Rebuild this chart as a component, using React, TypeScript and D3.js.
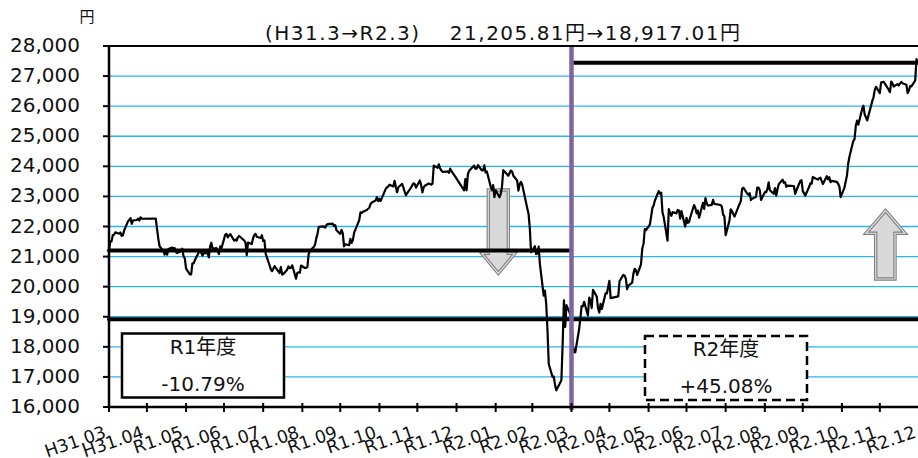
import React, { useEffect, useRef } from "react";
import * as d3 from "d3";

// 日経平均株価 終値（円）。先頭は H30年度末（3/29終値）を年度末日付で置く
const closesR1: [string, number][] = [
  ["2019-03-31", 21205.81],
  ["2019-04-01", 21509], ["2019-04-02", 21505], ["2019-04-03", 21713], ["2019-04-04", 21724], ["2019-04-05", 21807],
  ["2019-04-08", 21761], ["2019-04-09", 21802], ["2019-04-10", 21687], ["2019-04-11", 21711], ["2019-04-12", 21870],
  ["2019-04-15", 22169], ["2019-04-16", 22221], ["2019-04-17", 22277], ["2019-04-18", 22090], ["2019-04-19", 22200],
  ["2019-04-22", 22217], ["2019-04-23", 22259], ["2019-04-24", 22200], ["2019-04-25", 22307], ["2019-04-26", 22258],
  ["2019-05-07", 22259], ["2019-05-08", 21923], ["2019-05-09", 21602], ["2019-05-10", 21344], ["2019-05-13", 21191],
  ["2019-05-14", 21067], ["2019-05-15", 21189], ["2019-05-16", 21062], ["2019-05-17", 21250], ["2019-05-20", 21301],
  ["2019-05-21", 21272], ["2019-05-22", 21283], ["2019-05-23", 21151], ["2019-05-24", 21117], ["2019-05-27", 21182],
  ["2019-05-28", 21260], ["2019-05-29", 21003], ["2019-05-30", 20942], ["2019-05-31", 20601],
  ["2019-06-03", 20410], ["2019-06-04", 20408], ["2019-06-05", 20776], ["2019-06-06", 20774], ["2019-06-07", 20884],
  ["2019-06-10", 21134], ["2019-06-11", 21204], ["2019-06-12", 21129], ["2019-06-13", 21032], ["2019-06-14", 21116],
  ["2019-06-17", 21124], ["2019-06-18", 20972], ["2019-06-19", 21333], ["2019-06-20", 21462], ["2019-06-21", 21258],
  ["2019-06-24", 21285], ["2019-06-25", 21193], ["2019-06-26", 21086], ["2019-06-27", 21338], ["2019-06-28", 21275],
  ["2019-07-01", 21729], ["2019-07-02", 21754], ["2019-07-03", 21638], ["2019-07-04", 21702], ["2019-07-05", 21746],
  ["2019-07-08", 21534], ["2019-07-09", 21565], ["2019-07-10", 21533], ["2019-07-11", 21643], ["2019-07-12", 21685],
  ["2019-07-16", 21535], ["2019-07-17", 21469], ["2019-07-18", 21046], ["2019-07-19", 21466], ["2019-07-22", 21416],
  ["2019-07-23", 21620], ["2019-07-24", 21709], ["2019-07-25", 21756], ["2019-07-26", 21658], ["2019-07-29", 21616],
  ["2019-07-30", 21709], ["2019-07-31", 21521],
  ["2019-08-01", 21540], ["2019-08-02", 21087], ["2019-08-05", 20720], ["2019-08-06", 20585], ["2019-08-07", 20516],
  ["2019-08-08", 20593], ["2019-08-09", 20684], ["2019-08-13", 20455], ["2019-08-14", 20655], ["2019-08-15", 20405],
  ["2019-08-16", 20418], ["2019-08-19", 20563], ["2019-08-20", 20677], ["2019-08-21", 20618], ["2019-08-22", 20628],
  ["2019-08-23", 20711], ["2019-08-26", 20261], ["2019-08-27", 20456], ["2019-08-28", 20479], ["2019-08-29", 20460],
  ["2019-08-30", 20704],
  ["2019-09-02", 20620], ["2019-09-03", 20625], ["2019-09-04", 20649], ["2019-09-05", 21085], ["2019-09-06", 21199],
  ["2019-09-09", 21318], ["2019-09-10", 21392], ["2019-09-11", 21597], ["2019-09-12", 21759], ["2019-09-13", 21988],
  ["2019-09-17", 22001], ["2019-09-18", 21960], ["2019-09-19", 22044], ["2019-09-20", 22079], ["2019-09-24", 22098],
  ["2019-09-25", 22020], ["2019-09-26", 22048], ["2019-09-27", 21878], ["2019-09-30", 21756],
  ["2019-10-01", 21885], ["2019-10-02", 21778], ["2019-10-03", 21342], ["2019-10-04", 21410], ["2019-10-07", 21375],
  ["2019-10-08", 21587], ["2019-10-09", 21456], ["2019-10-10", 21551], ["2019-10-11", 21798], ["2019-10-15", 22207],
  ["2019-10-16", 22472], ["2019-10-17", 22451], ["2019-10-18", 22492], ["2019-10-21", 22548], ["2019-10-23", 22625],
  ["2019-10-24", 22750], ["2019-10-25", 22800], ["2019-10-28", 22867], ["2019-10-29", 22974], ["2019-10-30", 22843],
  ["2019-10-31", 22927],
  ["2019-11-01", 22851], ["2019-11-05", 23251], ["2019-11-06", 23303], ["2019-11-07", 23330], ["2019-11-08", 23391],
  ["2019-11-11", 23331], ["2019-11-12", 23520], ["2019-11-13", 23320], ["2019-11-14", 23141], ["2019-11-15", 23303],
  ["2019-11-18", 23416], ["2019-11-19", 23293], ["2019-11-20", 23148], ["2019-11-21", 23038], ["2019-11-22", 23113],
  ["2019-11-25", 23292], ["2019-11-26", 23373], ["2019-11-27", 23437], ["2019-11-28", 23409], ["2019-11-29", 23293],
  ["2019-12-02", 23529], ["2019-12-03", 23379], ["2019-12-04", 23135], ["2019-12-05", 23300], ["2019-12-06", 23354],
  ["2019-12-09", 23430], ["2019-12-10", 23410], ["2019-12-11", 23391], ["2019-12-12", 23424], ["2019-12-13", 24023],
  ["2019-12-16", 23952], ["2019-12-17", 24066], ["2019-12-18", 23934], ["2019-12-19", 23864], ["2019-12-20", 23816],
  ["2019-12-23", 23821], ["2019-12-24", 23830], ["2019-12-25", 23782], ["2019-12-26", 23924], ["2019-12-27", 23837],
  ["2019-12-30", 23657],
  ["2020-01-06", 23204], ["2020-01-07", 23575], ["2020-01-08", 23204], ["2020-01-09", 23739], ["2020-01-10", 23850],
  ["2020-01-14", 24025], ["2020-01-15", 23917], ["2020-01-16", 23933], ["2020-01-17", 24041], ["2020-01-20", 23864],
  ["2020-01-21", 23865], ["2020-01-22", 24031], ["2020-01-23", 23795], ["2020-01-24", 23827], ["2020-01-27", 23343],
  ["2020-01-28", 23216], ["2020-01-29", 23379], ["2020-01-30", 22977], ["2020-01-31", 23205],
  ["2020-02-03", 22972], ["2020-02-04", 23084], ["2020-02-05", 23320], ["2020-02-06", 23873], ["2020-02-07", 23828],
  ["2020-02-10", 23686], ["2020-02-12", 23861], ["2020-02-13", 23828], ["2020-02-14", 23688], ["2020-02-17", 23523],
  ["2020-02-18", 23194], ["2020-02-19", 23400], ["2020-02-20", 23479], ["2020-02-21", 23387], ["2020-02-25", 22605],
  ["2020-02-26", 22426], ["2020-02-27", 21948], ["2020-02-28", 21143],
  ["2020-03-02", 21344], ["2020-03-03", 21083], ["2020-03-04", 21100], ["2020-03-05", 21329], ["2020-03-06", 20750],
  ["2020-03-09", 19699], ["2020-03-10", 19867], ["2020-03-11", 19416], ["2020-03-12", 18560], ["2020-03-13", 17431],
  ["2020-03-16", 17002], ["2020-03-17", 17012], ["2020-03-18", 16727], ["2020-03-19", 16553], ["2020-03-23", 16888],
  ["2020-03-24", 18092], ["2020-03-25", 19547], ["2020-03-26", 18665], ["2020-03-27", 19389], ["2020-03-30", 19085],
  ["2020-03-31", 18917.01],
];

const closesR2: [string, number][] = [
  ["2020-04-01", 18065], ["2020-04-02", 17819], ["2020-04-03", 17820], ["2020-04-06", 18576], ["2020-04-07", 18950],
  ["2020-04-08", 19353], ["2020-04-09", 19345], ["2020-04-10", 19498], ["2020-04-13", 19043], ["2020-04-14", 19638],
  ["2020-04-15", 19550], ["2020-04-16", 19290], ["2020-04-17", 19897], ["2020-04-20", 19669], ["2020-04-21", 19281],
  ["2020-04-22", 19137], ["2020-04-23", 19429], ["2020-04-24", 19262], ["2020-04-27", 19783], ["2020-04-28", 19771],
  ["2020-04-30", 20194],
  ["2020-05-01", 19619], ["2020-05-07", 19675], ["2020-05-08", 20179], ["2020-05-11", 20390], ["2020-05-12", 20366],
  ["2020-05-13", 20267], ["2020-05-14", 19914], ["2020-05-15", 20037], ["2020-05-18", 20133], ["2020-05-19", 20433],
  ["2020-05-20", 20595], ["2020-05-21", 20552], ["2020-05-22", 20388], ["2020-05-25", 20741], ["2020-05-26", 21271],
  ["2020-05-27", 21419], ["2020-05-28", 21916], ["2020-05-29", 21877],
  ["2020-06-01", 22062], ["2020-06-02", 22325], ["2020-06-03", 22613], ["2020-06-04", 22695], ["2020-06-05", 22863],
  ["2020-06-08", 23178], ["2020-06-09", 23091], ["2020-06-10", 23124], ["2020-06-11", 22473], ["2020-06-12", 22305],
  ["2020-06-15", 21530], ["2020-06-16", 22582], ["2020-06-17", 22455], ["2020-06-18", 22355], ["2020-06-19", 22478],
  ["2020-06-22", 22437], ["2020-06-23", 22549], ["2020-06-24", 22534], ["2020-06-25", 22259], ["2020-06-26", 22512],
  ["2020-06-29", 21995], ["2020-06-30", 22288],
  ["2020-07-01", 22122], ["2020-07-02", 22145], ["2020-07-03", 22306], ["2020-07-06", 22714], ["2020-07-07", 22614],
  ["2020-07-08", 22438], ["2020-07-09", 22529], ["2020-07-10", 22291], ["2020-07-13", 22784], ["2020-07-14", 22587],
  ["2020-07-15", 22945], ["2020-07-16", 22770], ["2020-07-17", 22696], ["2020-07-20", 22717], ["2020-07-21", 22884],
  ["2020-07-22", 22751], ["2020-07-27", 22715], ["2020-07-28", 22657], ["2020-07-29", 22397], ["2020-07-30", 22339],
  ["2020-07-31", 21710],
  ["2020-08-03", 22195], ["2020-08-04", 22574], ["2020-08-05", 22514], ["2020-08-06", 22418], ["2020-08-07", 22329],
  ["2020-08-11", 22750], ["2020-08-12", 22843], ["2020-08-13", 23250], ["2020-08-14", 23289], ["2020-08-17", 23097],
  ["2020-08-18", 23051], ["2020-08-19", 23111], ["2020-08-20", 22880], ["2020-08-21", 22920], ["2020-08-24", 22985],
  ["2020-08-25", 23297], ["2020-08-26", 23296], ["2020-08-27", 23209], ["2020-08-28", 22882], ["2020-08-31", 23140],
  ["2020-09-01", 23138], ["2020-09-02", 23247], ["2020-09-03", 23465], ["2020-09-04", 23205], ["2020-09-07", 23089],
  ["2020-09-08", 23274], ["2020-09-09", 23032], ["2020-09-10", 23235], ["2020-09-11", 23406], ["2020-09-14", 23559],
  ["2020-09-15", 23454], ["2020-09-16", 23475], ["2020-09-17", 23319], ["2020-09-18", 23360], ["2020-09-23", 23346],
  ["2020-09-24", 23087], ["2020-09-25", 23204], ["2020-09-28", 23511], ["2020-09-29", 23539], ["2020-09-30", 23185],
  ["2020-10-02", 23030], ["2020-10-05", 23312], ["2020-10-06", 23433], ["2020-10-07", 23422], ["2020-10-08", 23647],
  ["2020-10-09", 23619], ["2020-10-12", 23558], ["2020-10-13", 23601], ["2020-10-14", 23626], ["2020-10-15", 23507],
  ["2020-10-16", 23410], ["2020-10-19", 23671], ["2020-10-20", 23567], ["2020-10-21", 23639], ["2020-10-22", 23474],
  ["2020-10-23", 23516], ["2020-10-26", 23494], ["2020-10-27", 23485], ["2020-10-28", 23418], ["2020-10-29", 23331],
  ["2020-10-30", 22977],
  ["2020-11-02", 23295], ["2020-11-04", 23695], ["2020-11-05", 24105], ["2020-11-06", 24325], ["2020-11-09", 24839],
  ["2020-11-10", 24905], ["2020-11-11", 25349], ["2020-11-12", 25520], ["2020-11-13", 25385], ["2020-11-16", 25906],
  ["2020-11-17", 26014], ["2020-11-18", 25728], ["2020-11-19", 25634], ["2020-11-20", 25527], ["2020-11-24", 26165],
  ["2020-11-25", 26296], ["2020-11-26", 26537], ["2020-11-27", 26644], ["2020-11-30", 26433],
  ["2020-12-01", 26787], ["2020-12-02", 26800], ["2020-12-03", 26809], ["2020-12-04", 26751], ["2020-12-07", 26547],
  ["2020-12-08", 26467], ["2020-12-09", 26817], ["2020-12-10", 26756], ["2020-12-11", 26652], ["2020-12-14", 26732],
  ["2020-12-15", 26687], ["2020-12-16", 26757], ["2020-12-17", 26806], ["2020-12-18", 26763], ["2020-12-21", 26714],
  ["2020-12-22", 26436], ["2020-12-23", 26524], ["2020-12-24", 26668], ["2020-12-25", 26656], ["2020-12-28", 26854],
  ["2020-12-29", 27568], ["2020-12-30", 27444.17],
];

// 年度末の基準値
const levelH30 = 21205.81;
const levelR1 = 18917.01;
const levelR2 = 27444.17;

const yTicks = [16000, 17000, 18000, 19000, 20000, 21000, 22000, 23000, 24000, 25000, 26000, 27000, 28000];
const xTickLabels = [
  "H31.03", "H31.04", "R1.05", "R1.06", "R1.07", "R1.08", "R1.09", "R1.10", "R1.11", "R1.12",
  "R2.01", "R2.02", "R2.03", "R2.04", "R2.05", "R2.06", "R2.07", "R2.08", "R2.09", "R2.10", "R2.11", "R2.12",
];

const title = "(H31.3→R2.3)\u3000 21,205.81円→18,917.01円";
const boxR1 = ["R1年度", "-10.79%"];
const boxR2 = ["R2年度", "+45.08%"];

const FONT = "'DejaVu Sans', Verdana, 'Noto Sans CJK JP', sans-serif";

const App = () => {
  const ref = useRef<HTMLDivElement>(null);

  useEffect(() => {
    d3.select(ref.current).selectAll("*").remove();

    const width = 918;
    const height = 458;
    const left = 109, right = 919, top = 46, bottom = 407;

    const svg = d3
      .select(ref.current)
      .append("svg")
      .attr("width", width)
      .attr("height", height)
      .style("display", "block")
      .style("font-family", FONT);

    const parse = d3.timeParse("%Y-%m-%d");
    const data = [...closesR1, ...closesR2].map(([d, v]) => ({ date: parse(d) as Date, value: v }));

    const x = d3
      .scaleTime()
      .domain([new Date(2019, 2, 31), new Date(2020, 11, 31)])
      .range([left, right]);
    const y = d3.scaleLinear().domain([16000, 28000]).range([bottom, top]);

    // 目盛は各月末
    const monthEnds = xTickLabels.map((_, i) => new Date(2019, 3 + i, 0));

    // グリッド線
    svg
      .append("g")
      .selectAll("line")
      .data(yTicks.filter((t) => t > 16000 && t < 28000))
      .join("line")
      .attr("x1", left)
      .attr("x2", right)
      .attr("y1", (d) => y(d))
      .attr("y2", (d) => y(d))
      .attr("stroke", "#29b6f0")
      .attr("stroke-width", 1.4);

    // 矢印
    const arrow = (path: string) => {
      svg.append("path").attr("d", path).attr("fill", "#d9d9d9").attr("stroke", "#808080").attr("stroke-width", 3.4);
      svg.append("path").attr("d", path).attr("fill", "none").attr("stroke", "#e6e6e6").attr("stroke-width", 1.1);
    };
    arrow("M488.3,190 H508.3 V253.3 H515 L498.3,273.3 L481.7,253.3 H488.3 Z");
    arrow("M875.7,279 H895 V233.3 H905 L885.5,210.7 L866,233.3 H875.7 Z");

    // 年度末水準の太線
    const thick = (x1: number, x2: number, v: number) =>
      svg
        .append("line")
        .attr("x1", x1)
        .attr("x2", x2)
        .attr("y1", y(v))
        .attr("y2", y(v))
        .attr("stroke", "#000")
        .attr("stroke-width", 4)
        .attr("stroke-linecap", "round");
    const fyEnd = x(new Date(2020, 2, 31));
    thick(left, fyEnd - 3, levelH30);
    thick(left, width, levelR1);
    thick(fyEnd, width, levelR2);

    // 終値ライン
    const line = d3
      .line<{ date: Date; value: number }>()
      .x((d) => x(d.date))
      .y((d) => y(d.value));
    svg
      .append("path")
      .datum(data)
      .attr("d", line)
      .attr("fill", "none")
      .attr("stroke", "#000")
      .attr("stroke-width", 2.2)
      .attr("stroke-linejoin", "round");

    // 年度区切り
    svg
      .append("line")
      .attr("x1", fyEnd)
      .attr("x2", fyEnd)
      .attr("y1", top)
      .attr("y2", bottom + 3)
      .attr("stroke", "#8064a2")
      .attr("stroke-width", 4.5);

    // 年度騰落率の枠
    const box = (bx: number, by: number, lines: string[], dashed: boolean) => {
      svg
        .append("rect")
        .attr("x", bx)
        .attr("y", by)
        .attr("width", 162)
        .attr("height", 64)
        .attr("fill", "#fff")
        .attr("stroke", "#000")
        .attr("stroke-width", 2.5)
        .attr("stroke-dasharray", dashed ? "9,5" : null);
      lines.forEach((t, i) =>
        svg
          .append("text")
          .attr("x", bx + 81)
          .attr("y", by + 20 + i * 37)
          .attr("text-anchor", "middle")
          .attr("font-size", 20)
          .attr("fill", "#111")
          .text(t)
      );
    };
    box(122, 333.5, boxR1, false);
    box(645, 336, boxR2, true);

    // 枠線・軸
    svg.append("line").attr("x1", left).attr("x2", right).attr("y1", top).attr("y2", top)
      .attr("stroke", "#000").attr("stroke-width", 2);
    svg.append("line").attr("x1", left).attr("x2", left).attr("y1", top - 1).attr("y2", bottom + 1)
      .attr("stroke", "#000").attr("stroke-width", 2.5);
    svg.append("line").attr("x1", left).attr("x2", right).attr("y1", bottom).attr("y2", bottom)
      .attr("stroke", "#000").attr("stroke-width", 2.5);

    const yAxis = svg.append("g");
    yTicks.forEach((t) => {
      yAxis.append("line").attr("x1", left - 6).attr("x2", left).attr("y1", y(t)).attr("y2", y(t))
        .attr("stroke", "#000").attr("stroke-width", 2);
      yAxis
        .append("text")
        .attr("x", 80)
        .attr("y", y(t))
        .attr("dy", "0.3em")
        .attr("text-anchor", "end")
        .attr("font-size", 20)
        .attr("fill", "#111")
        .text(d3.format(",")(t));
    });

    const xAxis = svg.append("g");
    monthEnds.forEach((d, i) => {
      const tx = i === 0 ? left : x(d);
      xAxis.append("line").attr("x1", tx).attr("x2", tx).attr("y1", bottom - 4).attr("y2", bottom + 5)
        .attr("stroke", "#000").attr("stroke-width", 2);
      xAxis
        .append("text")
        .attr("transform", `translate(${tx - 2},${437}) rotate(-19)`)
        .attr("text-anchor", "end")
        .attr("font-size", 17.5)
        .attr("fill", "#111")
        .text(xTickLabels[i]);
    });

    // タイトル・単位
    svg
      .append("text")
      .attr("x", 502.5)
      .attr("y", 40)
      .attr("text-anchor", "middle")
      .attr("font-size", 20)
      .attr("fill", "#111")
      .attr("textLength", 475)
      .attr("lengthAdjust", "spacing")
      .style("white-space", "pre")
      .text(title);
    svg.append("text").attr("x", 87).attr("y", 22).attr("text-anchor", "middle")
      .attr("font-size", 15).attr("fill", "#111").text("円");
  }, []);

  return <div ref={ref} style={{ position: "absolute", left: 0, top: 0 }}></div>;
};

export default App;
